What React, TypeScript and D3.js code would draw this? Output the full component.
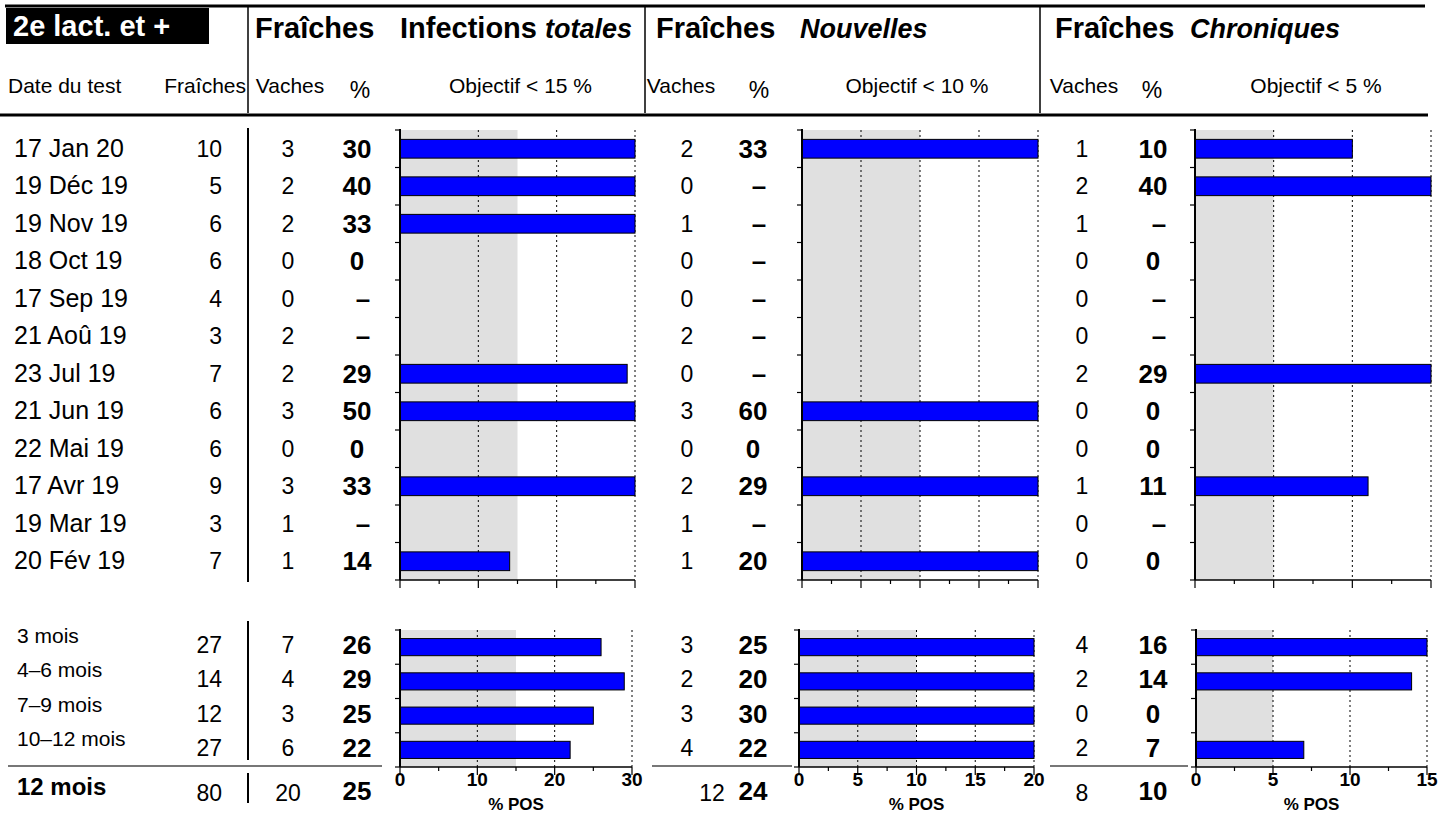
import { useEffect } from 'react';
import * as d3 from 'd3';

const FONT = "'Liberation Sans', Arial, Helvetica, sans-serif";

// monthly tests
const dates = ["17 Jan 20", "19 Déc 19", "19 Nov 19", "18 Oct 19", "17 Sep 19", "21 Aoû 19", "23 Jul 19", "21 Jun 19", "22 Mai 19", "17 Avr 19", "19 Mar 19", "20 Fév 19"];
const fraiches = [10, 5, 6, 6, 4, 3, 7, 6, 6, 9, 3, 7];
const totVaches = [3, 2, 2, 0, 0, 2, 2, 3, 0, 3, 1, 1];
const totPct: (number | null)[] = [30, 40, 33, 0, null, null, 29, 50, 0, 33, null, 14];
const nouvVaches = [2, 0, 1, 0, 0, 2, 0, 3, 0, 2, 1, 1];
const nouvPct: (number | null)[] = [33, null, null, null, null, null, null, 60, 0, 29, null, 20];
const chronVaches = [1, 2, 1, 0, 0, 0, 2, 0, 0, 1, 0, 0];
const chronPct: (number | null)[] = [10, 40, null, 0, null, null, 29, 0, 0, 11, null, 0];

// quarterly summary
const periods = ["3 mois", "4–6 mois", "7–9 mois", "10–12 mois"];
const perFraiches = [27, 14, 12, 27];
const perTotVaches = [7, 4, 3, 6];
const perTotPct = [26, 29, 25, 22];
const perNouvVaches = [3, 2, 3, 4];
const perNouvPct = [25, 20, 30, 22];
const perChronVaches = [4, 2, 0, 2];
const perChronPct = [16, 14, 0, 7];

// 12 months totals
const totalLabel = "12 mois";
const totalFraiches = 80;
const totalVaches = [20, 12, 8];
const totalPct = [25, 24, 10];

const objectifs = [15, 10, 5];
const axisMax = [30, 20, 15];
const majorStep = [10, 5, 5];
const minorStep = [5, 2.5, 2.5];

// layout of the three blocks
const blocks = [
  { vaches: 288, pct: 357, head: 360, top: [400, 635], bottom: [400, 632] },
  { vaches: 687, pct: 753, head: 759, top: [802, 1038], bottom: [799, 1034] },
  { vaches: 1082, pct: 1153, head: 1152, top: [1195, 1431], bottom: [1196, 1427] },
];

const TOP = [130, 580];
const BOT = [630, 767];

function BarPanel({ x0, x1, y0, y1, max, target, major, minor, values, labels }: any) {
  const x = d3.scaleLinear().domain([0, max]).range([x0, x1]);
  const y = d3
    .scaleBand<number>()
    .domain(d3.range(values.length))
    .range([y0, y1])
    .paddingInner(0.5)
    .paddingOuter(0.25);
  const step = y.step();
  const majors = d3.range(0, max + 0.001, major);
  const minors = d3.range(0, max + 0.001, minor);
  return (
    <g>
      <rect x={x(0)} y={y0} width={x(target) - x(0)} height={y1 - y0} fill="#e0e0e0" />
      {majors.filter((t) => t > 0).map((t) => (
        <line key={t} x1={x(t)} x2={x(t)} y1={y0} y2={y1} stroke="#000" strokeWidth={1} strokeDasharray="2,3" />
      ))}
      {values.map((v: number | null, i: number) =>
        v == null ? null : (
          <rect key={i} x={x(0)} y={y(i)} width={x(Math.min(v, max)) - x(0)} height={y.bandwidth()}
            fill="#0000ff" stroke="#000" strokeWidth={1} />
        )
      )}
      <line x1={x0} x2={x0} y1={y0 - 1} y2={y1} stroke="#000" strokeWidth={2} />
      {d3.range(values.length + 1).map((i) => (
        <line key={i} x1={x0 - 5} x2={x0} y1={y0 + i * step} y2={y0 + i * step} stroke="#000" strokeWidth={1.2} />
      ))}
      <line x1={x0} x2={x1} y1={y1} y2={y1} stroke="#000" strokeWidth={1.5} />
      {minors.map((t) => {
        const isMajor = Math.abs(t / major - Math.round(t / major)) < 1e-6;
        return <line key={t} x1={x(t)} x2={x(t)} y1={y1} y2={y1 + (isMajor ? 8 : 4)} stroke="#000" strokeWidth={1.2} />;
      })}
      {labels &&
        majors.map((t) => (
          <text key={t} x={x(t)} y={y1 + 19} textAnchor="middle" fontSize={19} fontWeight="bold" fontFamily={FONT}>
            {t}
          </text>
        ))}
      {labels && (
        <text x={(x0 + x1) / 2} y={y1 + 43} textAnchor="middle" fontSize={17} fontWeight="bold" fontFamily={FONT}>
          % POS
        </text>
      )}
    </g>
  );
}

export default function App() {
  useEffect(() => {
    document.body.style.margin = "0";
  }, []);

  const topY = d3.scaleBand<number>().domain(d3.range(dates.length)).range(TOP);
  const botY = d3.scaleBand<number>().domain(d3.range(periods.length)).range(BOT);
  const tc = (i: number) => topY(i)! + topY.bandwidth() / 2;
  const bc = (i: number) => botY(i)! + botY.bandwidth() / 2;

  const topVaches = [totVaches, nouvVaches, chronVaches];
  const topPct = [totPct, nouvPct, chronPct];
  const botVaches = [perTotVaches, perNouvVaches, perChronVaches];
  const botPct = [perTotPct, perNouvPct, perChronPct];

  const t = { fontFamily: FONT, fill: "#000" };
  const NUM = 23;
  const PCT = 26;
  const HEAD = 29;
  const HEAD_IT = 27;

  return (
    <svg width={1451} height={817} style={{ display: "block", background: "#fff" }}>
      {/* header */}
      <line x1={5} x2={1425} y1={6} y2={6} stroke="#000" strokeWidth={3} />
      <rect x={6} y={8} width={203} height={36} fill="#000" />
      <text x={13} y={36} fontSize={HEAD} fontWeight="bold" fontFamily={FONT} fill="#fff">2e lact. et +</text>
      {[248, 645, 1040].map((vx) => (
        <line key={vx} x1={vx} x2={vx} y1={6} y2={113} stroke="#000" strokeWidth={1.5} />
      ))}
      <text x={255} y={38} fontSize={HEAD} fontWeight="bold" {...t}>Fraîches</text>
      <text x={400} y={38} fontSize={HEAD} fontWeight="bold" {...t}>
        Infections <tspan fontStyle="italic" fontSize={HEAD_IT}>totales</tspan>
      </text>
      <text x={656} y={38} fontSize={HEAD} fontWeight="bold" {...t}>Fraîches</text>
      <text x={800} y={38} fontSize={HEAD_IT} fontWeight="bold" fontStyle="italic" {...t}>Nouvelles</text>
      <text x={1055} y={38} fontSize={HEAD} fontWeight="bold" {...t}>Fraîches</text>
      <text x={1190} y={38} fontSize={HEAD_IT} fontWeight="bold" fontStyle="italic" {...t}>Chroniques</text>

      <text x={8} y={93} fontSize={21} {...t}>Date du test</text>
      <text x={246} y={93} fontSize={21} textAnchor="end" {...t}>Fraîches</text>
      {blocks.map((b, k) => (
        <g key={k}>
          <text x={b.vaches + (k === 1 ? -6 : 2)} y={93} fontSize={21} textAnchor="middle" {...t}>Vaches</text>
          <text x={b.head} y={98} fontSize={23} textAnchor="middle" {...t}>%</text>
          <text x={(b.top[0] + b.top[1]) / 2 + (k === 1 ? -3 : 3)} y={93} fontSize={21} textAnchor="middle" {...t}>
            {`Objectif < ${objectifs[k]} %`}
          </text>
        </g>
      ))}
      <line x1={0} x2={1428} y1={115} y2={115} stroke="#000" strokeWidth={3} />

      {/* monthly rows */}
      <line x1={248} x2={248} y1={128} y2={582} stroke="#000" strokeWidth={2} />
      {dates.map((d, i) => (
        <g key={d}>
          <text x={14} y={tc(i) + 8} fontSize={25} {...t}>{d}</text>
          <text x={222} y={tc(i) + 8} fontSize={NUM} textAnchor="end" {...t}>{fraiches[i]}</text>
          {blocks.map((b, k) => {
            const p = topPct[k][i];
            return (
              <g key={k}>
                <text x={b.vaches} y={tc(i) + 8} fontSize={NUM} textAnchor="middle" {...t}>{topVaches[k][i]}</text>
                <text x={p == null ? b.pct + 6 : b.pct} y={tc(i) + 9} fontSize={PCT} fontWeight="bold" textAnchor="middle" {...t}>
                  {p == null ? "–" : p}
                </text>
              </g>
            );
          })}
        </g>
      ))}
      {blocks.map((b, k) => (
        <BarPanel key={k} x0={b.top[0]} x1={b.top[1]} y0={TOP[0]} y1={TOP[1]} max={axisMax[k]}
          target={objectifs[k]} major={majorStep[k]} minor={minorStep[k]} values={topPct[k]} labels={false} />
      ))}

      {/* quarterly rows */}
      <line x1={248} x2={248} y1={621} y2={760} stroke="#000" strokeWidth={2} />
      {periods.map((p, i) => (
        <g key={p}>
          <text x={17} y={bc(i) - 4} fontSize={21} {...t}>{p}</text>
          <text x={222} y={bc(i) + 6} fontSize={NUM} textAnchor="end" {...t}>{perFraiches[i]}</text>
          {blocks.map((b, k) => (
            <g key={k}>
              <text x={b.vaches} y={bc(i) + 6} fontSize={NUM} textAnchor="middle" {...t}>{botVaches[k][i]}</text>
              <text x={b.pct} y={bc(i) + 7} fontSize={PCT} fontWeight="bold" textAnchor="middle" {...t}>{botPct[k][i]}</text>
            </g>
          ))}
        </g>
      ))}
      {blocks.map((b, k) => (
        <BarPanel key={k} x0={b.bottom[0]} x1={b.bottom[1]} y0={BOT[0]} y1={BOT[1]} max={axisMax[k]}
          target={objectifs[k]} major={majorStep[k]} minor={minorStep[k]} values={botPct[k]} labels={true} />
      ))}
      {[[8, 382], [652, 792], [1050, 1188]].map(([a, c]) => (
        <line key={a} x1={a} x2={c} y1={766} y2={766} stroke="#777" strokeWidth={2} />
      ))}

      {/* 12 months */}
      <line x1={248} x2={248} y1={773} y2={803} stroke="#000" strokeWidth={2} />
      <text x={17} y={795} fontSize={24} fontWeight="bold" {...t}>{totalLabel}</text>
      <text x={222} y={801} fontSize={NUM} textAnchor="end" {...t}>{totalFraiches}</text>
      {blocks.map((b, k) => (
        <g key={k}>
          <text x={b.vaches + (k === 1 ? 25 : 0)} y={801} fontSize={NUM} textAnchor="middle" {...t}>{totalVaches[k]}</text>
          <text x={b.pct} y={800} fontSize={PCT} fontWeight="bold" textAnchor="middle" {...t}>{totalPct[k]}</text>
        </g>
      ))}
    </svg>
  );
}
